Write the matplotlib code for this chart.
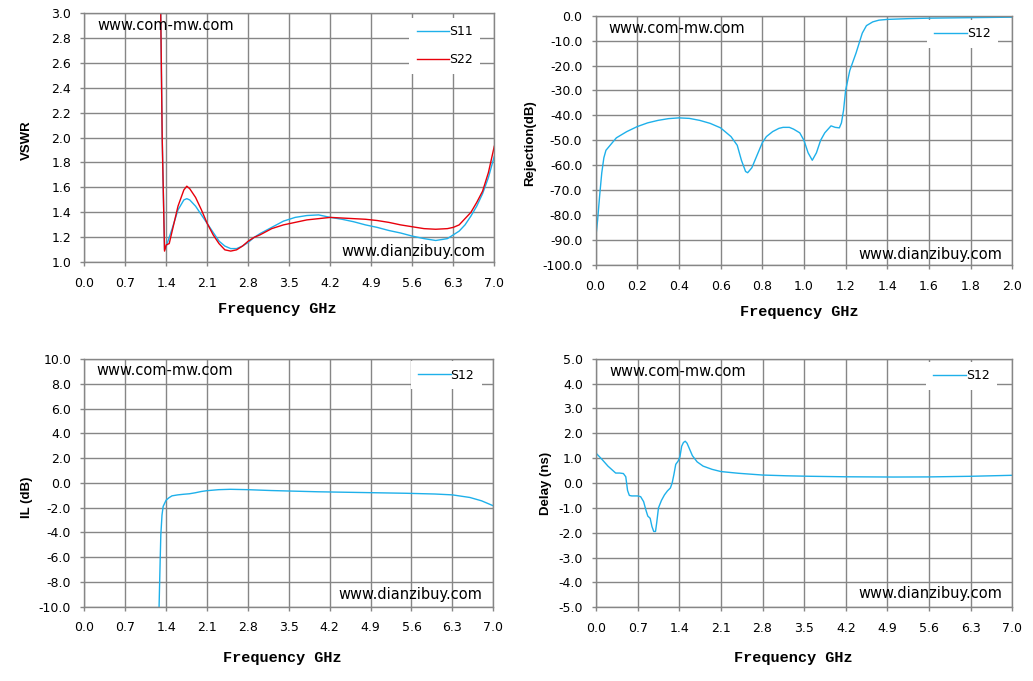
import numpy as np
import matplotlib
matplotlib.use("Agg")
import matplotlib.pyplot as plt

# VSWR (S11 / S22)
vswr_freq = [1.30, 1.33, 1.37, 1.40, 1.45, 1.50, 1.60, 1.70, 1.75, 1.80, 1.90, 2.00,
             2.10, 2.20, 2.30, 2.40, 2.50, 2.60, 2.70, 2.80, 2.90, 3.00, 3.20, 3.40,
             3.60, 3.80, 4.00, 4.20, 4.40, 4.60, 4.80, 5.00, 5.20, 5.40, 5.60, 5.80,
             6.00, 6.20, 6.30, 6.40, 6.50, 6.60, 6.70, 6.80, 6.90, 7.00]
s11 = [3.2, 2.0, 1.10, 1.13, 1.20, 1.27, 1.42, 1.50, 1.51, 1.50, 1.45, 1.38,
       1.31, 1.24, 1.17, 1.13, 1.11, 1.11, 1.13, 1.16, 1.20, 1.23, 1.28, 1.33,
       1.36, 1.375, 1.38, 1.36, 1.345, 1.325, 1.30, 1.28, 1.255, 1.235, 1.21, 1.19,
       1.175, 1.19, 1.22, 1.25, 1.30, 1.37, 1.45, 1.55, 1.68, 1.85]
s22 = [3.2, 2.0, 1.09, 1.14, 1.15, 1.25, 1.45, 1.58, 1.61, 1.59, 1.52, 1.42,
       1.31, 1.22, 1.15, 1.10, 1.09, 1.10, 1.13, 1.17, 1.20, 1.22, 1.27, 1.30,
       1.32, 1.34, 1.35, 1.36, 1.355, 1.35, 1.345, 1.335, 1.32, 1.30, 1.285, 1.27,
       1.265, 1.27, 1.28, 1.30, 1.35, 1.40, 1.48, 1.57, 1.72, 1.93]

# Rejection (S12)
rej_freq = [0.00, 0.01, 0.02, 0.03, 0.04, 0.05, 0.07, 0.10, 0.15, 0.20, 0.25, 0.30,
            0.35, 0.40, 0.45, 0.50, 0.55, 0.60, 0.65, 0.68, 0.70, 0.72, 0.73, 0.75,
            0.78, 0.80, 0.82, 0.85, 0.88, 0.90, 0.93, 0.95, 0.98, 1.00, 1.02, 1.04,
            1.06, 1.08, 1.10, 1.13, 1.15, 1.17, 1.18, 1.19, 1.20, 1.22, 1.25, 1.28,
            1.30, 1.33, 1.36, 1.40, 1.50, 1.60, 1.80, 2.00]
rej_db = [-90, -82, -72, -63, -57, -54, -52, -49, -46.5, -44.5, -43, -42,
          -41.3, -41, -41.2, -42, -43.2, -45, -48.5, -52, -58, -62.5, -63, -61,
          -55, -51, -48.5, -46.5, -45.2, -44.8, -44.8, -45.5, -47, -50, -55, -58,
          -55, -50, -47, -44.2, -44.8, -45, -43, -38, -30, -22, -15, -7,
          -4, -2.5, -1.8, -1.5, -1.2, -1.0, -0.8, -0.6]

# Insertion loss (S12)
il_freq = [1.28, 1.29, 1.30, 1.31, 1.33, 1.35, 1.40, 1.45, 1.50, 1.60, 1.70, 1.80,
           1.90, 2.00, 2.10, 2.30, 2.50, 2.80, 3.20, 3.60, 4.00, 4.50, 5.00, 5.50,
           6.00, 6.30, 6.60, 6.80, 7.00]
il_db = [-10.0, -8, -6, -4.2, -2.6, -1.9, -1.4, -1.2, -1.05, -0.97, -0.92, -0.88,
         -0.8, -0.7, -0.63, -0.55, -0.52, -0.55, -0.62, -0.67, -0.72, -0.76, -0.8, -0.84,
         -0.9, -0.97, -1.18, -1.45, -1.85]

# Group delay (S12)
dly_freq = [0.00, 0.10, 0.20, 0.33, 0.40, 0.46, 0.50, 0.53, 0.56, 0.60, 0.70, 0.75,
            0.80, 0.84, 0.87, 0.91, 0.94, 0.97, 1.00, 1.02, 1.05, 1.10, 1.15, 1.20,
            1.25, 1.28, 1.31, 1.34, 1.38, 1.41, 1.44, 1.47, 1.50, 1.53, 1.57, 1.62,
            1.70, 1.80, 1.95, 2.10, 2.40, 2.80, 3.20, 3.60, 4.20, 5.00, 5.60, 6.30, 7.00]
dly_ns = [1.2, 0.95, 0.68, 0.40, 0.40, 0.38, 0.25, -0.3, -0.5, -0.52, -0.52, -0.55,
          -0.75, -1.1, -1.33, -1.42, -1.75, -1.95, -1.95, -1.6, -1.0, -0.7, -0.48, -0.32,
          -0.2, 0.0, 0.35, 0.75, 0.88, 1.05, 1.48, 1.63, 1.68, 1.6, 1.38, 1.1,
          0.85, 0.68, 0.55, 0.46, 0.39, 0.32, 0.29, 0.27, 0.25, 0.24, 0.245, 0.27, 0.31]

BLUE = "#1EB0EA"
RED = "#E8000B"
GRID = "#868686"


def style_axes(ax, xticks, yticks):
    ax.set_xticks(xticks)
    ax.set_yticks(yticks)
    ax.set_xlim(xticks[0], xticks[-1])
    ax.set_ylim(yticks[0], yticks[-1])
    ax.set_xticklabels(["%.1f" % v for v in xticks])
    ax.set_yticklabels(["%.1f" % v for v in yticks])
    ax.grid(True, color=GRID, linewidth=1.0)
    ax.set_axisbelow(True)
    for s in ax.spines.values():
        s.set_color(GRID)
        s.set_linewidth(1.0)
    ax.tick_params(direction="out", length=3, width=1, color=GRID,
                   labelsize=9, labelcolor="black")
    ax.tick_params(axis="x", pad=7.5)
    ax.tick_params(axis="y", pad=6.5)


def watermarks(ax, top_xy, bot_xy):
    ax.text(top_xy[0], top_xy[1], "www.com-mw.com", transform=ax.transAxes,
            fontsize=10.5, ha="left", va="center")
    ax.text(bot_xy[0], bot_xy[1], "www.dianzibuy.com", transform=ax.transAxes,
            fontsize=10.5, ha="right", va="center")


def add_legend(ax, anchor):
    leg = ax.legend(loc="upper right", bbox_to_anchor=anchor, frameon=True,
                    fontsize=9, handlelength=2.6, handletextpad=0.0,
                    labelspacing=1.2, borderpad=0.6, borderaxespad=0.0,
                    fancybox=False)
    leg.get_frame().set_facecolor("white")
    leg.get_frame().set_edgecolor("none")
    leg.get_frame().set_alpha(1.0)


def xlabel(ax, x, y):
    ax.set_xlabel("Frequency GHz", family="Liberation Mono", fontweight="bold",
                  fontsize=11)
    ax.xaxis.set_label_coords(x, y)


def ylabel(ax, text, x, y):
    ax.set_ylabel(text, family="Liberation Sans", fontweight="bold", fontsize=9.5)
    ax.yaxis.set_label_coords(x, y)


fig = plt.figure(figsize=(10.33, 6.81), dpi=100)

ticks07 = [round(0.7 * i, 1) for i in range(11)]

# top left: VSWR
ax1 = fig.add_axes([0.0816, 0.6148, 0.3969, 0.3665])
ax1.plot(vswr_freq, s11, color=BLUE, lw=1.0, label="S11")
ax1.plot(vswr_freq, s22, color=RED, lw=1.0, label="S22")
style_axes(ax1, ticks07, [round(1.0 + 0.2 * i, 1) for i in range(11)])
watermarks(ax1, (0.032, 0.95), (0.978, 0.044))
add_legend(ax1, (0.966, 0.979))
xlabel(ax1, 0.472, -0.16)
ylabel(ax1, "VSWR", -0.125, 0.49)

# top right: rejection
ax2 = fig.add_axes([0.5765, 0.6109, 0.4035, 0.3661])
ax2.plot(rej_freq, rej_db, color=BLUE, lw=1.0, label="S12")
style_axes(ax2, [round(0.2 * i, 1) for i in range(11)], list(range(-100, 1, 10)))
watermarks(ax2, (0.032, 0.95), (0.975, 0.044))
add_legend(ax2, (0.966, 0.983))
xlabel(ax2, 0.49, -0.16)
ylabel(ax2, "Rejection(dB)", -0.143, 0.49)

# bottom left: insertion loss
ax3 = fig.add_axes([0.0816, 0.1091, 0.3959, 0.3637])
ax3.plot(il_freq, il_db, color=BLUE, lw=1.0, label="S12")
style_axes(ax3, ticks07, list(range(-10, 11, 2)))
watermarks(ax3, (0.029, 0.955), (0.973, 0.051))
add_legend(ax3, (0.972, 0.992))
xlabel(ax3, 0.485, -0.179)
ylabel(ax3, "IL (dB)", -0.125, 0.44)

# bottom right: delay
ax4 = fig.add_axes([0.577, 0.1082, 0.403, 0.3651])
ax4.plot(dly_freq, dly_ns, color=BLUE, lw=1.0, label="S12")
style_axes(ax4, ticks07, list(range(-5, 6, 1)))
watermarks(ax4, (0.031, 0.95), (0.975, 0.054))
add_legend(ax4, (0.963, 0.987))
xlabel(ax4, 0.473, -0.176)
ylabel(ax4, "Delay (ns)", -0.106, 0.50)

fig.savefig("out.png", dpi=100)
